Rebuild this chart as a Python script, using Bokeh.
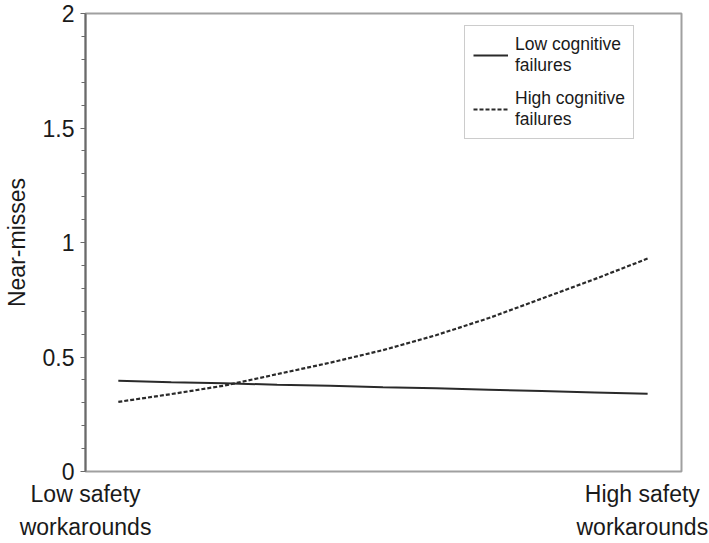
from bokeh.plotting import figure
from bokeh.models import Range1d, FixedTicker, Legend, LegendItem
from bokeh.embed import file_html
from bokeh.resources import INLINE

# ---- data ----
x_levels = [0.0, 0.1, 0.2, 0.3, 0.4, 0.5, 0.6, 0.7, 0.8, 0.9, 1.0]
low_cf = [0.396, 0.390, 0.385, 0.379, 0.374, 0.368, 0.363, 0.357, 0.351, 0.345, 0.339]
high_cf = [0.304, 0.338, 0.375, 0.425, 0.475, 0.530, 0.595, 0.670, 0.755, 0.840, 0.930]
series_names = ["Low cognitive\nfailures", "High cognitive\nfailures"]
x_cat_pos = [-0.0619, 0.99]
x_cat_labels = ["Low safety\nworkarounds", "High safety\nworkarounds"]
y_ticks = [0, 0.5, 1, 1.5, 2]
y_tick_labels = ["0", "0.5", "1", "1.5", "2"]
y_minor = [0.1, 0.2, 0.3, 0.4, 0.6, 0.7, 0.8, 0.9, 1.1, 1.2, 1.3, 1.4,
           1.6, 1.7, 1.8, 1.9]
y_title = "Near-misses"

FONT = "Liberation Sans"
INK = "#1a1a1a"

p = figure(width=709, height=543, output_backend="svg", toolbar_location=None,
           x_range=Range1d(-0.062, 1.064), y_range=Range1d(0, 2),
           min_border_left=82, min_border_right=28, min_border_top=13,
           min_border_bottom=70)
p.background_fill_color = "white"
p.border_fill_color = "white"
p.grid.visible = False
p.outline_line_color = "#a0a0a0"
p.outline_line_width = 2

r1 = p.line(x_levels, low_cf, line_color="#2a2a2a", line_width=2)
r2 = p.line(x_levels, high_cf, line_color="#2a2a2a", line_width=2.2,
            line_dash="4 2")

# y axis
ya = p.yaxis[0]
ya.ticker = FixedTicker(ticks=y_ticks, minor_ticks=y_minor)
ya.major_label_overrides = {t: l for t, l in zip(y_ticks, y_tick_labels)}
ya.axis_line_color = "#6a6a6a"
ya.axis_line_width = 2
ya.major_tick_line_color = "#6a6a6a"
ya.major_tick_in = 0
ya.major_tick_out = 5
ya.minor_tick_line_color = "#6a6a6a"
ya.minor_tick_in = 0
ya.minor_tick_out = 4
ya.major_label_standoff = 6
ya.major_label_text_font = FONT
ya.major_label_text_font_size = "23px"
ya.major_label_text_color = INK
ya.axis_label = y_title
ya.axis_label_text_font = FONT
ya.axis_label_text_font_size = "23px"
ya.axis_label_text_font_style = "normal"
ya.axis_label_text_color = INK
ya.axis_label_standoff = 10

# x axis: only the two category captions
xa = p.xaxis[0]
xa.ticker = FixedTicker(ticks=x_cat_pos, minor_ticks=[])
xa.major_label_overrides = {t: l for t, l in zip(x_cat_pos, x_cat_labels)}
xa.axis_line_color = None
xa.major_tick_line_color = None
xa.minor_tick_line_color = None
xa.major_tick_in = 0
xa.major_tick_out = 0
xa.minor_tick_in = 0
xa.minor_tick_out = 0
xa.major_label_standoff = 9
xa.major_label_text_font = FONT
xa.major_label_text_font_size = "23px"
xa.major_label_text_line_height = 1.3
xa.major_label_text_color = INK

legend = Legend(items=[LegendItem(label=series_names[0], renderers=[r1]),
                       LegendItem(label=series_names[1], renderers=[r2])],
                location=(379, 332))
legend.border_line_color = "#9a9a9a"
legend.border_line_width = 1.5
legend.padding = 8
legend.spacing = 12
legend.glyph_width = 35
legend.label_standoff = 7
legend.label_text_font = FONT
legend.label_text_font_size = "17.5px"
legend.label_text_line_height = 1.2
legend.label_text_color = INK
legend.margin = 0
p.add_layout(legend)

open("out.html", "w").write(file_html(p, INLINE))
